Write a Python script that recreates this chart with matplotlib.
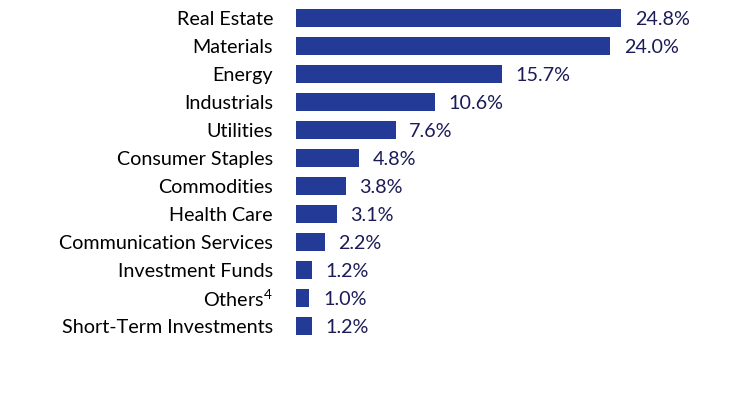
import matplotlib.pyplot as plt

plt.rcParams['font.family'] = ['Lato', 'DejaVu Sans']
plt.rcParams['mathtext.fontset'] = 'custom'
plt.rcParams['mathtext.rm'] = 'Lato'
plt.rcParams['mathtext.it'] = 'Lato'

categories = ["Real Estate", "Materials", "Energy", "Industrials", "Utilities",
              "Consumer Staples", "Commodities", "Health Care",
              "Communication Services", "Investment Funds", "Others$^{4}$",
              "Short-Term Investments"]
values = [24.8, 24.0, 15.7, 10.6, 7.6, 4.8, 3.8, 3.1, 2.2, 1.2, 1.0, 1.2]
value_labels = ["24.8%", "24.0%", "15.7%", "10.6%", "7.6%", "4.8%", "3.8%",
                "3.1%", "2.2%", "1.2%", "1.0%", "1.2%"]

bar_color = "#233B97"
text_color = "#1B1B58"

fig = plt.figure(figsize=(7.32, 4.08), dpi=100)
ax = fig.add_axes([296 / 732, 68 / 408, 436 / 732, 336 / 408])

ypos = list(range(len(categories)))
ax.barh(ypos, values, height=0.67, color=bar_color)

for y, v, lab in zip(ypos, values, value_labels):
    ax.text(v + 1.05, y + 0.04, lab, va="center", ha="left", fontsize=14.2, color=text_color)

ax.set_xlim(0, 436 / 13.1)
ax.set_ylim(len(categories) - 0.5, -0.5)
ax.set_yticks(ypos)
ax.set_yticklabels(categories, fontsize=14.2, color="black")
ax.tick_params(axis="y", length=0, pad=16.5)
ax.set_xticks([])
for s in ax.spines.values():
    s.set_visible(False)

fig.savefig("out.png", dpi=100)
